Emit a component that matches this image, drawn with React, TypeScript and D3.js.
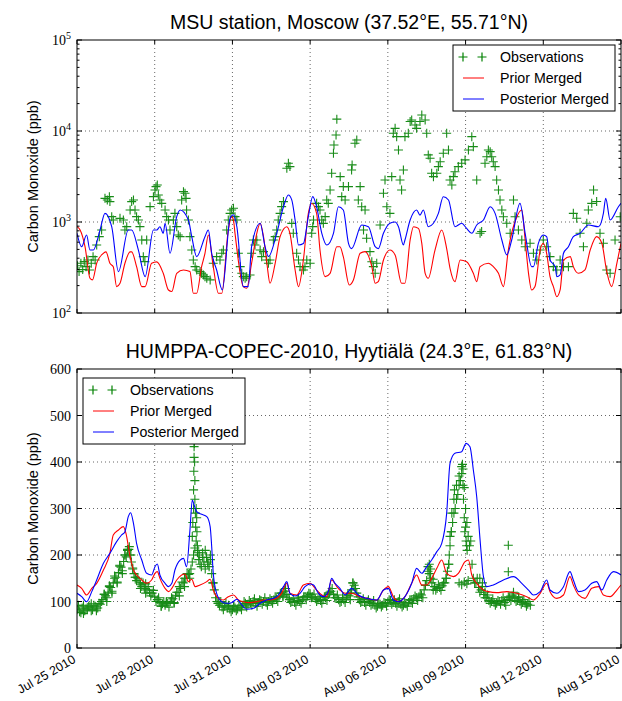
import React from 'react';
import * as d3 from 'd3';

const DAY0 = Date.UTC(2010, 6, 25);
const tickDays = [0, 3, 6, 9, 12, 15, 18, 21];
const tickLabels = ['Jul 25 2010', 'Jul 28 2010', 'Jul 31 2010', 'Aug 03 2010', 'Aug 06 2010', 'Aug 09 2010', 'Aug 12 2010', 'Aug 15 2010'];
const topTicks = [100, 1000, 10000, 100000];
const topTickExp = ['2', '3', '4', '5'];
const botTicks = [0, 100, 200, 300, 400, 500, 600];

type P = [number, number];

// MSU station (day offset from Jul 25 2010, ppb)
const msuObs: P[] = [
  [0.02, 330], [0.08, 285], [0.15, 352], [0.22, 300], [0.28, 367], [0.35, 323], [0.42, 383], [0.48, 297], [0.55, 352], [0.62, 416], [0.7, 383],
  [0.76, 559], [0.86, 690], [0.95, 817], [1.08, 1820], [1.17, 1746], [1.25, 1900], [1.27, 1675], [1.34, 1145], [1.4, 1052],
  [1.66, 1097], [1.79, 1052], [1.85, 817], [1.92, 889], [2.05, 1355], [2.11, 1675], [2.18, 1746], [2.24, 1355], [2.3, 1145], [2.37, 1052],
  [2.43, 889], [2.5, 634], [2.56, 416], [2.62, 367], [2.69, 634], [2.82, 1475], [2.95, 1900], [3.01, 2250], [3.05, 2445], [3.1, 2550],
  [3.14, 1980], [3.2, 1746], [3.27, 1604], [3.4, 1355], [3.46, 1145], [3.53, 1052], [3.59, 817], [3.72, 1052], [3.78, 1245],
  [3.85, 889], [3.91, 720], [3.98, 690], [4.04, 1746], [4.11, 2155], [4.17, 2066], [4.21, 1820], [4.23, 1355], [4.3, 1052],
  [4.36, 690], [4.43, 492], [4.49, 383], [4.56, 323], [4.62, 297], [4.75, 285], [4.81, 273], [4.88, 262], [4.94, 251], [5.01, 241], [5.14, 231],
  [5.26, 352], [5.39, 416], [5.52, 383], [5.59, 453], [5.65, 492], [5.78, 817], [5.84, 1052], [5.91, 1245], [5.97, 1355], [6.04, 1414], [6.1, 1145], [6.17, 1052],
  [6.23, 453], [6.3, 323], [6.36, 273], [6.42, 251], [6.49, 241], [6.55, 251], [6.68, 262], [6.74, 453], [6.81, 634], [6.87, 559], [6.94, 634], [7.07, 492], [7.13, 416],
  [7.2, 472], [7.32, 383], [7.39, 352], [7.45, 383], [7.58, 634], [7.65, 690], [7.71, 817], [7.77, 1052], [7.84, 1245], [7.9, 1475], [7.97, 1675],
  [8.1, 3890], [8.16, 4415], [8.22, 4060], [8.29, 967], [8.35, 751], [8.48, 453], [8.55, 383], [8.61, 323], [8.74, 297], [8.8, 323], [8.87, 383], [9.0, 352],
  [9.06, 751], [9.1, 889], [9.13, 1052], [9.25, 1604], [9.32, 1475], [9.38, 1355], [9.45, 1052], [9.51, 967], [9.58, 1145], [9.64, 1746], [9.7, 1604],
  [9.77, 2250], [9.83, 3430], [9.9, 5690], [9.92, 7020], [10.0, 9040], [10.03, 13500], [10.16, 3150], [10.22, 1900], [10.28, 2450], [10.35, 1746],
  [10.48, 2450], [10.6, 3730], [10.62, 4240], [10.73, 7330], [10.8, 7970], [10.86, 1746], [10.93, 2450], [10.99, 1472], [11.06, 817], [11.12, 1355],
  [11.18, 662], [11.31, 472], [11.38, 366], [11.44, 323], [11.51, 273], [11.57, 352], [11.7, 927], [11.83, 2066], [11.89, 2896], [11.96, 1472],
  [12.08, 1245], [12.15, 3150], [12.21, 9440], [12.28, 10700], [12.34, 8670], [12.41, 6190], [12.47, 2896], [12.53, 2250], [12.6, 3730], [12.66, 8670],
  [12.79, 9440], [12.86, 12700], [12.92, 13200], [13.05, 11650], [13.11, 10700], [13.24, 12700], [13.31, 15000], [13.44, 13200], [13.5, 9440],
  [13.56, 5460], [13.63, 5020], [13.69, 3430], [13.76, 3150], [13.89, 3430], [13.95, 4060], [14.02, 4600], [14.14, 5690], [14.27, 9440], [14.34, 6190],
  [14.4, 2896], [14.47, 2550], [14.53, 3150], [14.59, 3570], [14.72, 4060], [14.85, 4415], [14.98, 4810], [15.11, 6190], [15.24, 8670], [15.3, 6730],
  [15.43, 2896], [15.56, 751], [15.62, 785], [15.75, 4415], [15.82, 5220], [15.88, 6190], [15.95, 5930], [16.01, 5220], [16.07, 4600], [16.14, 4060],
  [16.2, 2896], [16.27, 2250], [16.33, 1746], [16.4, 1355], [16.46, 1143], [16.59, 968], [16.72, 751], [16.85, 1746], [16.91, 1143], [17.04, 817],
  [17.17, 634], [17.3, 535], [17.49, 583], [17.62, 453], [17.75, 382], [17.88, 492], [18.0, 634], [18.13, 535], [18.26, 416], [18.39, 323], [18.52, 297],
  [18.65, 382], [18.78, 323], [18.97, 323], [19.16, 1245], [19.29, 1100], [19.42, 751], [19.55, 535], [19.68, 968], [19.74, 1355], [19.87, 1604],
  [19.94, 2250], [20.06, 1680], [20.19, 751], [20.32, 583], [20.45, 297], [20.58, 273], [20.77, 634], [20.97, 1143]
];

const msuPrior: P[] = [
  [0, 888], [0.12, 817], [0.31, 535], [0.5, 241], [0.6, 231], [0.76, 352], [1.02, 453], [1.12, 470], [1.27, 352], [1.4, 323], [1.53, 195], [1.66, 212],
  [1.85, 352], [2.05, 470], [2.11, 470], [2.3, 323], [2.5, 195], [2.63, 195], [2.88, 352], [3.08, 365], [3.33, 273], [3.53, 179], [3.66, 172], [3.85, 273],
  [4.11, 297], [4.36, 285], [4.49, 165], [4.62, 165], [4.81, 323], [4.94, 453], [5.07, 720], [5.26, 323], [5.46, 165], [5.59, 165], [5.84, 817], [5.97, 1145],
  [6.04, 1050], [6.1, 751], [6.42, 195], [6.55, 187], [6.74, 352], [6.94, 751], [7.07, 968], [7.2, 690], [7.33, 352], [7.45, 212], [7.65, 352], [7.84, 690],
  [8.1, 888], [8.22, 751], [8.42, 297], [8.55, 195], [8.74, 385], [8.93, 1245], [9.06, 1600], [9.25, 1245], [9.38, 492], [9.58, 251], [9.77, 273], [10.03, 535],
  [10.15, 535], [10.28, 416], [10.51, 203], [10.67, 231], [10.93, 453], [11.12, 472], [11.38, 323], [11.51, 212], [11.63, 221], [11.83, 382], [12.08, 492],
  [12.28, 435], [12.53, 212], [12.66, 212], [12.86, 634], [12.99, 888], [13.18, 850], [13.31, 583], [13.44, 273], [13.56, 241], [13.82, 492], [14.08, 817],
  [14.27, 510], [14.4, 310], [14.59, 221], [14.79, 382], [15.04, 366], [15.3, 273], [15.43, 221], [15.56, 323], [15.88, 352], [16.07, 323], [16.27, 273],
  [16.46, 195], [16.65, 492], [16.98, 1143], [17.17, 1355], [17.3, 634], [17.43, 273], [17.55, 179], [17.68, 195], [17.88, 492], [18.0, 583], [18.13, 453],
  [18.26, 251], [18.39, 195], [18.52, 151], [18.65, 179], [18.78, 382], [19.04, 416], [19.16, 323], [19.36, 273], [19.61, 297], [19.81, 492], [20.06, 690],
  [20.26, 583], [20.45, 285], [20.64, 195], [20.84, 352], [21.0, 583]
];

const msuPost: P[] = [
  [0, 751], [0.18, 535], [0.37, 720], [0.5, 492], [0.63, 492], [0.89, 817], [1.08, 1245], [1.34, 888], [1.6, 285], [1.98, 817], [2.11, 817], [2.37, 492],
  [2.63, 251], [2.95, 817], [3.08, 817], [3.2, 888], [3.33, 751], [3.4, 968], [3.59, 453], [3.85, 1145], [3.98, 1355], [4.3, 1050], [4.43, 690], [4.62, 416],
  [4.94, 690], [5.07, 817], [5.2, 453], [5.39, 297], [5.61, 179], [5.91, 1100], [6.04, 1200], [6.17, 888], [6.42, 195], [6.61, 195], [6.74, 535], [7.07, 968],
  [7.26, 535], [7.39, 416], [7.71, 751], [7.97, 1470], [8.16, 1980], [8.29, 1750], [8.42, 1050], [8.55, 559], [8.74, 580], [8.93, 1145], [9.1, 1900],
  [9.25, 1470], [9.45, 751], [9.64, 559], [9.9, 751], [10.09, 1470], [10.28, 1355], [10.48, 583], [10.6, 510], [10.99, 927], [11.25, 888], [11.51, 535],
  [11.63, 510], [11.83, 751], [12.08, 968], [12.28, 1000], [12.41, 888], [12.6, 560], [12.66, 634], [12.86, 1052], [13.11, 1355], [13.24, 1190], [13.37, 1355],
  [13.56, 888], [13.76, 968], [13.95, 1245], [14.14, 1897], [14.34, 1746], [14.59, 888], [14.85, 968], [15.04, 850], [15.24, 751], [15.43, 927], [15.69, 1052],
  [15.95, 1472], [16.14, 1245], [16.4, 634], [16.59, 435], [16.78, 634], [17.1, 1604], [17.3, 751], [17.55, 323], [17.62, 323], [17.81, 583], [18.0, 720],
  [18.13, 690], [18.26, 382], [18.46, 323], [18.52, 251], [18.65, 262], [18.78, 453], [18.97, 535], [19.16, 690], [19.42, 751], [19.74, 927], [20.13, 888],
  [20.32, 1245], [20.41, 1820], [20.58, 1052], [20.9, 1472], [21.0, 1604]
];

// HUMPPA-COPEC-2010, Hyytiälä: observations every 0.1 day from Jul 25 00:00 ...
const hyyObsStep = 0.1;
const hyyObsValues: number[] = [
  82, 78, 86, 80, 84, 88, 82, 90, 86, 94,
  104, 112, 120, 130, 140, 152, 162, 174, 186, 196,
  212, 185, 160, 145, 140, 132, 128, 125, 120, 118,
  110, 104, 98, 95, 92, 96, 100, 106, 112, 120,
  128, 140, 150, 158, 170, 200, 230, 190, 175, 185,
  195, 175, 160, 125, 100, 92, 88, 90, 86, 84,
  82, 86, 84, 88, 92, 96, 94, 98, 100, 96,
  98, 102, 100, 98, 100, 102, 104, 106, 110, 118,
  122, 115, 104, 100, 98, 102, 100, 104, 110, 112,
  115, 110, 106, 104, 102, 104, 108, 115, 122, 115,
  108, 104, 100, 104, 108, 112, 125, 135, 118, 104,
  100, 98, 100, 98, 96, 92, 90, 94, 92, 96,
  98, 102, 98, 96, 100, 94, 92, 95, 98, 102,
  106, 108, 110, 114, 125, 145, 160, 140, 132, 128,
  130, 134, 140, 165, 220, 270, 300, 330, 360, 385,
  300, 240, 230, 150, 140, 130, 125, 115, 108, 102,
  100, 98, 96, 100, 102, 98, 104, 108, 112, 106,
  102, 100, 98, 96, 94, 92
];
// ... and the readings in between (0.05 day + every 0.1 day)
const hyyObsValuesMid: number[] = [
  90, 76, 92, 84, 90, 80, 92, 84, 96, 100,
  116, 108, 134, 122, 150, 142, 178, 166, 200, 210,
  200, 172, 152, 150, 136, 140, 118, 132, 112, 124,
  100, 108, 90, 100, 98, 88, 108, 96, 120, 112,
  142, 132, 160, 150, 185, 215, 205, 180, 195, 170,
  185, 190, 140, 108, 96, 100, 82, 96, 92, 78,
  90, 80, 92, 82, 100, 88, 102, 92, 106, 90,
  104, 94, 108, 92, 106, 96, 110, 100, 118, 112,
  128, 108, 98, 106, 92, 108, 96, 110, 104, 118,
  108, 116, 100, 110, 96, 110, 102, 120, 128, 108,
  114, 98, 108, 98, 114, 104, 140, 128, 110, 98,
  106, 92, 104, 92, 102, 86, 96, 88, 98, 90,
  104, 94, 104, 90, 106, 88, 98, 90, 104, 96,
  112, 102, 116, 108, 135, 165, 150, 148, 124, 136,
  124, 140, 150, 180, 250, 290, 320, 350, 375, 345,
  270, 220, 180, 140, 150, 120, 132, 108, 114, 96,
  106, 92, 102, 94, 108, 92, 110, 102, 116, 100,
  108, 94, 104, 90, 100
];
const hyyObsExtra: P[] = [
  [0.05, 92], [0.25, 74], [0.55, 95], [0.75, 80], [1.05, 115], [1.15, 100], [1.25, 132], [1.35, 118], [1.45, 155], [1.55, 140], [1.65, 176], [1.75, 160],
  [1.85, 200], [1.95, 212], [2.02, 218], [2.08, 200], [2.15, 170], [2.25, 152], [2.45, 128], [2.65, 138], [3.25, 90], [3.45, 100], [3.75, 98], [3.95, 132],
  [4.15, 150], [4.35, 160], [4.45, 240], [4.47, 270], [4.5, 300], [4.5, 340], [4.51, 380], [4.52, 410], [4.52, 433], [4.53, 440], [4.54, 400], [4.55, 360],
  [4.55, 320], [4.57, 290], [4.58, 260], [4.6, 300], [4.62, 280], [4.63, 250], [4.65, 220], [4.67, 210], [4.72, 200], [4.85, 205], [4.95, 210], [5.05, 180],
  [5.15, 200], [5.25, 140], [5.45, 96], [6.05, 90], [7.95, 110], [8.05, 128], [9.75, 118], [10.55, 118], [10.65, 140], [10.75, 128],
  [13.45, 135], [13.55, 175], [13.6, 180], [13.65, 170], [13.75, 125], [14.25, 150], [14.35, 180], [14.37, 200], [14.4, 240], [14.45, 250], [14.47, 290],
  [14.55, 320], [14.57, 340], [14.65, 350], [14.75, 370], [14.85, 390], [14.88, 395], [14.9, 350], [14.92, 320], [14.95, 280], [14.97, 250], [15.0, 260],
  [15.02, 230], [15.04, 220], [15.06, 210], [14.75, 140], [14.85, 136], [14.95, 142], [15.05, 138], [15.1, 145], [15.55, 150], [15.65, 140], [15.75, 120],
  [16.65, 221], [16.65, 164], [16.85, 120], [17.05, 110]
];

const hyyPrior: P[] = [
  [0, 135.5], [0.18, 128.3], [0.37, 114], [0.57, 128.3], [0.76, 139.1], [1.02, 167.7], [1.27, 203.6], [1.4, 243], [1.6, 253.8], [1.79, 261], [1.89, 246.6],
  [2.05, 196.4], [2.18, 167.7], [2.3, 157], [2.5, 146.2], [2.69, 139.1], [2.88, 146.2], [3.01, 160.6], [3.1, 164.2], [3.2, 149.8], [3.4, 128.3], [3.53, 121.2],
  [3.66, 128.3], [3.85, 146.2], [4.04, 157], [4.17, 159.1], [4.3, 142.7], [4.43, 147.7], [4.56, 131.9], [4.75, 135.5], [5.01, 142.7], [5.14, 147.7],
  [5.26, 124.7], [5.46, 106.8], [5.65, 103.2], [5.84, 110.4], [6.04, 114], [6.23, 103.2], [6.42, 99.6], [6.68, 97.5], [6.94, 99.6], [7.2, 103.2],
  [7.45, 103.2], [7.71, 106.8], [7.9, 117.6], [8.1, 139.1], [8.22, 117.6], [8.48, 114], [8.74, 135.5], [9.0, 139.1], [9.19, 128.3], [9.45, 114],
  [9.64, 110.4], [9.83, 146.2], [10.03, 131.9], [10.15, 124.7], [10.35, 117.6], [10.6, 117.6], [10.93, 110.4], [11.18, 106.8], [11.57, 103.2],
  [11.83, 124.7], [12.02, 131.9], [12.21, 110.4], [12.41, 99.6], [12.66, 110.4], [12.92, 139.1], [13.11, 157], [13.31, 135.5], [13.5, 135.5],
  [13.69, 149.8], [13.89, 171.3], [14.08, 189.2], [14.27, 160.6], [14.53, 153.4], [14.72, 160.6], [14.98, 185.6], [15.11, 189.2], [15.24, 157],
  [15.43, 139.1], [15.69, 124.7], [15.88, 121.2], [16.2, 119], [16.59, 121.2], [16.98, 117.6], [17.36, 110.4], [17.62, 103.2], [17.88, 117.6],
  [18.13, 139.1], [18.26, 121.2], [18.52, 106.8], [18.78, 114], [19.03, 153.4], [19.16, 135.5], [19.36, 114], [19.61, 106.8], [19.87, 128.3],
  [20.13, 131.9], [20.32, 114], [20.58, 110.4], [20.84, 124.7], [21.0, 135.5]
];

const hyyPost: P[] = [
  [0, 117.6], [0.18, 110.4], [0.37, 99.6], [0.57, 121.2], [0.76, 146.2], [1.02, 182.1], [1.27, 203.6], [1.53, 228.7], [1.72, 243], [1.85, 250.2],
  [1.98, 282.4], [2.07, 291], [2.18, 268.1], [2.3, 225.1], [2.5, 189.2], [2.69, 160.6], [2.88, 157], [3.01, 174.9], [3.1, 180.6], [3.2, 157],
  [3.4, 139.1], [3.53, 131.9], [3.66, 139.1], [3.78, 167.7], [3.98, 189.2], [4.11, 192.8], [4.23, 174.9], [4.36, 253.8], [4.45, 318.3], [4.52, 307.5],
  [4.62, 293.2], [4.81, 287.4], [5.01, 282.4], [5.14, 261], [5.2, 217.9], [5.26, 160.6], [5.39, 117.6], [5.59, 99.6], [5.78, 96.1], [5.97, 97.5],
  [6.17, 104.7], [6.36, 92.5], [6.55, 83.2], [6.81, 85.3], [7.07, 96.1], [7.32, 103.2], [7.58, 106.8], [7.77, 114], [7.97, 131.9], [8.1, 142.7],
  [8.22, 117.6], [8.42, 111.8], [8.61, 117.6], [8.8, 131.9], [9.0, 137.6], [9.13, 135.5], [9.32, 117.6], [9.51, 110.4], [9.7, 121.2], [9.83, 149.8],
  [9.96, 139.1], [10.15, 128.3], [10.35, 114], [10.6, 128.3], [10.86, 114], [11.18, 106.8], [11.57, 103.2], [11.83, 124.7], [12.02, 128.3], [12.21, 103.2],
  [12.41, 99.6], [12.66, 110.4], [12.92, 139.1], [13.11, 171.3], [13.31, 160.6], [13.5, 174.9], [13.69, 189.2], [13.89, 207.2], [14.08, 225.1],
  [14.27, 289.6], [14.4, 397.1], [14.59, 418.6], [14.85, 422.2], [15.02, 440.1], [15.17, 433], [15.3, 382.8], [15.43, 325.4], [15.56, 232.3],
  [15.69, 153.4], [15.82, 131.9], [16.07, 135.5], [16.46, 146.2], [16.85, 153.4], [17.17, 139.1], [17.43, 124.7], [17.62, 114], [17.88, 121.2],
  [18.13, 146.2], [18.26, 124.7], [18.52, 117.6], [18.78, 131.9], [19.03, 164.2], [19.16, 146.2], [19.36, 121.2], [19.61, 124.7], [19.87, 139.1],
  [20.06, 142.7], [20.26, 124.7], [20.45, 146.2], [20.71, 164.2], [21.0, 157]
];

const legendLabels = ['Observations', 'Prior Merged', 'Posterior Merged'];
const OBS = '#008000', PRIOR = '#ff0000', POST = '#0000ff';

const W = 622, H = 701, L = 77, R = 621;
const SANS = '"Liberation Sans", Arial, Helvetica, sans-serif';
const SERIF = '"Liberation Serif", "Times New Roman", serif';

const toDate = (d: number) => new Date(DAY0 + d * 864e5);
const x = d3.scaleUtc().domain([toDate(0), toDate(21)]).range([L, R]);

const Plus = ({ cx, cy, s = 4.5 }: { cx: number; cy: number; s?: number }) => (
  <path d={`M${cx - s},${cy}H${cx + s}M${cx},${cy - s}V${cy + s}`} />
);

function Legend({ x0, y0 }: { x0: number; y0: number }) {
  const rows = [12, 33, 54];
  return (
    <g>
      <rect x={x0} y={y0} width={162} height={66} fill="#fff" stroke="#000" strokeWidth={1} />
      <g stroke={OBS} strokeWidth={1.2} fill="none">
        <Plus cx={x0 + 10} cy={y0 + rows[0]} s={4.5} />
        <Plus cx={x0 + 29} cy={y0 + rows[0]} s={4.5} />
      </g>
      <line x1={x0 + 10} x2={x0 + 31} y1={y0 + rows[1]} y2={y0 + rows[1]} stroke={PRIOR} strokeWidth={1} />
      <line x1={x0 + 10} x2={x0 + 31} y1={y0 + rows[2]} y2={y0 + rows[2]} stroke={POST} strokeWidth={1} />
      {legendLabels.map((t, i) => (
        <text key={t} x={x0 + 47} y={y0 + rows[i] + 5} fontFamily={SANS} fontSize={14.2}>{t}</text>
      ))}
    </g>
  );
}

function Panel({ id, top, bottom, y, logScale, obs, prior, post, title, legendPos, showX }: any) {
  const line = d3.line<P>().x(p => x(toDate(p[0]))).y(p => y(p[1])).curve(d3.curveMonotoneX);
  const yTicks: number[] = logScale ? topTicks : botTicks;
  const minor: number[] = [];
  if (logScale) {
    for (let e = 2; e < 5; e++) for (let k = 2; k < 10; k++) minor.push(k * Math.pow(10, e));
  }
  const mid = (top + bottom) / 2;
  return (
    <g>
      <defs>
        <clipPath id={id}><rect x={L} y={top} width={R - L} height={bottom - top} /></clipPath>
      </defs>
      <text x={(L + R) / 2} y={top - 11} textAnchor="middle" fontFamily={SANS} fontSize={19.5}>{title}</text>
      <g stroke="#000" strokeWidth={0.6} strokeDasharray="1,3">
        {tickDays.slice(1, -1).map(d => (
          <line key={'gx' + d} x1={x(toDate(d))} x2={x(toDate(d))} y1={top} y2={bottom} />
        ))}
        {yTicks.slice(1, -1).map(v => (
          <line key={'gy' + v} x1={L} x2={R} y1={y(v)} y2={y(v)} />
        ))}
      </g>
      <g clipPath={`url(#${id})`}>
        <g stroke={OBS} strokeWidth={1.1} fill="none" opacity={0.9}>
          {obs.map((p: P, i: number) => (
            <Plus key={i} cx={x(toDate(p[0]))} cy={y(p[1])} />
          ))}
        </g>
        <path d={line(prior) || ''} fill="none" stroke={PRIOR} strokeWidth={1.1} />
        <path d={line(post) || ''} fill="none" stroke={POST} strokeWidth={1.1} />
      </g>
      <rect x={L} y={top} width={R - L} height={bottom - top} fill="none" stroke="#000" strokeWidth={1} />
      <g stroke="#000" strokeWidth={1}>
        {tickDays.map(d => {
          const xx = x(toDate(d));
          return (
            <g key={'tx' + d}>
              <line x1={xx} x2={xx} y1={bottom} y2={bottom - 4} />
              <line x1={xx} x2={xx} y1={top} y2={top + 4} />
            </g>
          );
        })}
        {yTicks.map(v => (
          <g key={'ty' + v}>
            <line x1={L} x2={L + 5} y1={y(v)} y2={y(v)} />
            <line x1={R} x2={R - 5} y1={y(v)} y2={y(v)} />
          </g>
        ))}
        {minor.map(v => (
          <g key={'tm' + v}>
            <line x1={L} x2={L + 2.5} y1={y(v)} y2={y(v)} />
            <line x1={R} x2={R - 2.5} y1={y(v)} y2={y(v)} />
          </g>
        ))}
      </g>
      {yTicks.map((v, i) => (
        logScale ? (
          <text key={'ly' + v} x={71} y={y(v) + 5} textAnchor="end" fontFamily={SERIF} fontSize={14}>
            10<tspan dy={-6} fontSize={10}>{topTickExp[i]}</tspan>
          </text>
        ) : (
          <text key={'ly' + v} x={71} y={y(v) + 5} textAnchor="end" fontFamily={SERIF} fontSize={14}>{v}</text>
        )
      ))}
      <text transform={`translate(38,${mid}) rotate(-90)`} textAnchor="middle" fontFamily={SANS} fontSize={14.5}>Carbon Monoxide (ppb)</text>
      {showX && tickDays.map((d, i) => (
        <text key={'lx' + d} transform={`translate(${x(toDate(d)) - 5},${bottom + 6}) rotate(-30)`} textAnchor="end" dy="0.72em" fontFamily={SANS} fontSize={12.5}>
          {tickLabels[i]}
        </text>
      ))}
      <Legend x0={legendPos[0]} y0={legendPos[1]} />
    </g>
  );
}

export default function App() {
  const yTop = d3.scaleLog().domain([100, 100000]).range([313, 40]);
  const yBot = d3.scaleLinear().domain([0, 600]).range([648, 369]);
  const hyyObs: P[] = hyyObsValues.map((v, i) => [i * hyyObsStep, v] as P)
    .concat(hyyObsValuesMid.map((v, i) => [0.05 + i * hyyObsStep, v] as P))
    .concat(hyyObsExtra);
  return (
    <svg width={W} height={H} style={{ position: 'absolute', left: 0, top: 0, background: '#fff' }}>
      <rect width={W} height={H} fill="#fff" />
      <Panel id="c1" top={40} bottom={313} y={yTop} logScale obs={msuObs} prior={msuPrior} post={msuPost}
        title="MSU station, Moscow (37.52°E, 55.71°N)" legendPos={[453, 45]} showX={false} />
      <Panel id="c2" top={369} bottom={648} y={yBot} logScale={false} obs={hyyObs} prior={hyyPrior} post={hyyPost}
        title="HUMPPA-COPEC-2010, Hyytiälä (24.3°E, 61.83°N)" legendPos={[83, 378]} showX />
    </svg>
  );
}
